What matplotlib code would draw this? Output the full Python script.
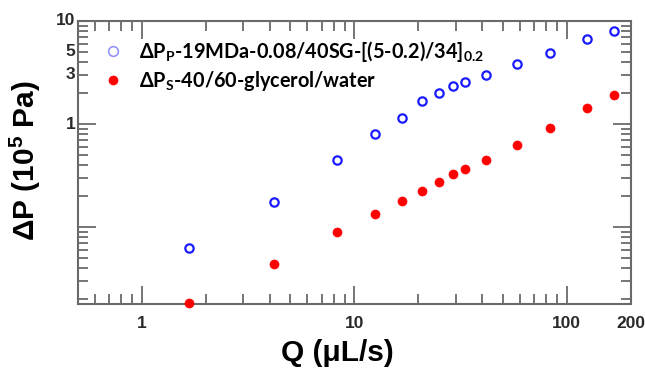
import matplotlib
matplotlib.use("Agg")
import matplotlib.pyplot as plt
from matplotlib.ticker import FixedLocator, LogLocator, NullFormatter

plt.rcParams['mathtext.fontset'] = 'custom'
plt.rcParams['mathtext.rm'] = 'Lato:bold'
plt.rcParams['mathtext.bf'] = 'Lato:bold'
plt.rcParams['mathtext.sf'] = 'Liberation Sans:bold'

# Data
q = [1.66, 4.17, 8.31, 12.5, 16.7, 20.8, 25.0, 29.1, 33.2, 41.6, 58.3, 82.9, 125, 166]
dp_polymer = [0.0631, 0.176, 0.449, 0.794, 1.15, 1.66, 2.00, 2.32, 2.53, 3.00, 3.86, 4.83, 6.60, 7.94]
dp_solvent = [0.0183, 0.0445, 0.0895, 0.136, 0.181, 0.226, 0.277, 0.331, 0.364, 0.449, 0.622, 0.922, 1.42, 1.91]

label_p = r"ΔP$_{\mathrm{P}}$-19MDa-0.08/40SG-[(5-0.2)/34]$_{\mathrm{0.2}}$"
label_s = r"ΔP$_{\mathrm{S}}$-40/60-glycerol/water"

x_ticks = [1, 10, 100, 200]
x_ticklabels = ["1", "10", "100", "200"]
y_ticks = [1, 3, 5, 10]
y_ticklabels = ["1", "3", "5", "10"]

fig = plt.figure(figsize=(6.45, 3.72), dpi=100)
ax = fig.add_axes([0.121, 0.183, 0.857, 0.761])

ax.plot(q, dp_polymer, linestyle='none', marker='o', ms=6, mfc='none',
        mec='#1a1aff', mew=1.6, label=label_p, clip_on=False, zorder=3)
ax.plot(q, dp_solvent, linestyle='none', marker='o', ms=6.5, mfc='#ff0000',
        mec='#ff0000', mew=0.5, label=label_s, clip_on=False, zorder=3)

ax.set_xscale('log')
ax.set_yscale('log')
ax.set_xlim(0.5, 200)
ax.set_ylim(0.0181, 10)

spine_col = '#6a6a6a'
for s in ax.spines.values():
    s.set_color(spine_col)
    s.set_linewidth(1.5)

ax.xaxis.set_major_locator(FixedLocator([1, 10, 100]))
ax.xaxis.set_minor_locator(LogLocator(base=10, subs=range(2, 10)))
ax.yaxis.set_major_locator(FixedLocator([0.1, 1, 10]))
ax.yaxis.set_minor_locator(LogLocator(base=10, subs=range(2, 10)))
for axis in (ax.xaxis, ax.yaxis):
    axis.set_major_formatter(NullFormatter())
    axis.set_minor_formatter(NullFormatter())

ax.tick_params(which='major', direction='in', length=13, width=1.3,
               top=True, right=True, color=spine_col)
ax.tick_params(which='minor', direction='in', length=7, width=1.3,
               top=True, right=True, color=spine_col)

for xv, lab in zip(x_ticks, x_ticklabels):
    ax.annotate(lab, xy=(xv, 0), xycoords=('data', 'axes fraction'),
                xytext=(0, -9), textcoords='offset points', ha='center', va='top',
                fontsize=12.5, fontweight='bold', family='Liberation Sans', color='#2a2a2a')
for yv, lab in zip(y_ticks, y_ticklabels):
    ax.annotate(lab, xy=(0, yv), xycoords=('axes fraction', 'data'),
                xytext=(-2, 0), textcoords='offset points', ha='right', va='center',
                fontsize=12.5, fontweight='bold', family='Liberation Sans', color='#2a2a2a')

ax.set_xlabel("Q (μL/s)", fontsize=21.5, fontweight='bold', family='Liberation Sans')
ax.xaxis.label.set_va('center')
ax.xaxis.set_label_coords(0.47, -0.173)
ax.set_ylabel(r"ΔP (10$^{\mathsf{5}}$ Pa)", fontsize=21.5, fontweight='bold',
              family='Liberation Sans')
ax.yaxis.label.set_va('center')
ax.yaxis.set_label_coords(-0.096, 0.507)

leg = ax.legend(loc='upper left', bbox_to_anchor=(0.022, 0.965), frameon=False,
                prop={'family': 'Lato', 'weight': 'bold', 'size': 14.3},
                handletextpad=0.55, labelspacing=0.25, handlelength=1.5, borderaxespad=0)
h0 = leg.legend_handles[0]
h0.set_markeredgecolor('#8c8cff')
h0.set_markeredgewidth(1.1)
h0.set_markersize(7)

fig.savefig("out.png", dpi=100)
